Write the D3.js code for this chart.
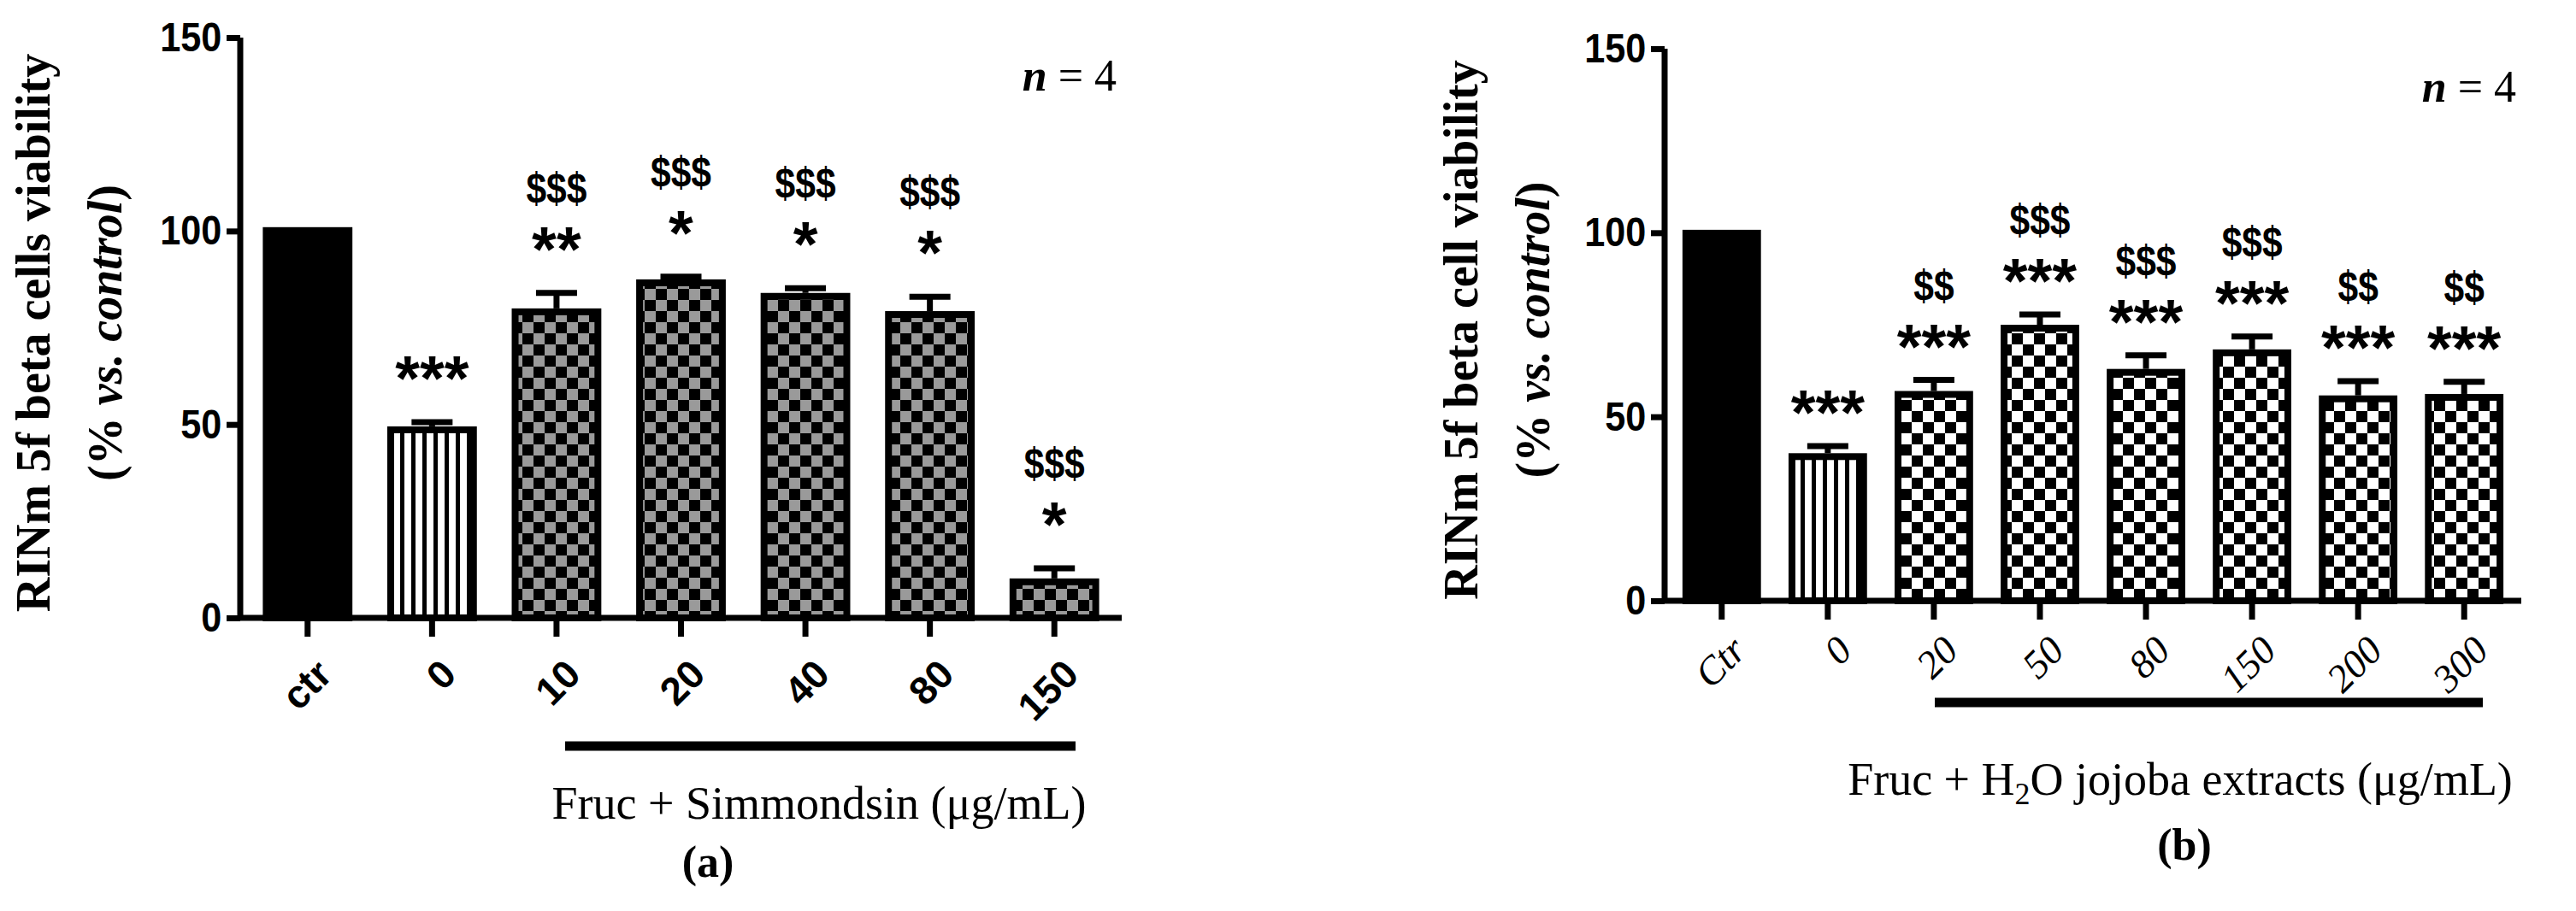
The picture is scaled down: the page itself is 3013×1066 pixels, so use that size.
<!DOCTYPE html>
<html><head><meta charset="utf-8">
<script src="https://cdn.jsdelivr.net/npm/d3@7"></script>
<style>body{margin:0;background:#fff}</style>
</head><body>
<svg id="chart" width="3013" height="1066"></svg>
<script>
// panel (a) data
var catsA = ['ctr', '0', '10', '20', '40', '80', '150'];
var valsA = [101, 49.5, 80, 87.5, 84, 79.3, 10.2];
var errA = [0, 50.6, 84, 88.2, 85.2, 83, 12.8];
var starsA = ['', '***', '**', '*', '*', '*', '*'];
var dollarsA = ['', '', '$$$', '$$$', '$$$', '$$$', '$$$'];
var fillA = ['solid', 'stripes', 'checkGray', 'checkGray', 'checkGray', 'checkGray', 'checkGray'];

// panel (b) data
var catsB = ['Ctr', '0', '20', '50', '80', '150', '200', '300'];
var valsB = [100.8, 40.1, 57, 75, 63, 68.3, 55.8, 56.2];
var errB = [0, 42, 60, 77.8, 66.7, 71.8, 59.7, 59.5];
var starsB = ['', '***', '***', '***', '***', '***', '***', '***'];
var dollarsB = ['', '', '$$', '$$$', '$$$', '$$$', '$$', '$$'];
var fillB = ['solid', 'stripes', 'checkBW', 'checkBW', 'checkBW', 'checkBW', 'checkBW', 'checkBW'];

var yTicks = [0, 50, 100, 150];

var svg = d3.select('#chart');
var defs = svg.append('defs');
var cell = 13;
function checker(id, c1, c2) {
    var p = defs.append('pattern').attr('id', id).attr('patternUnits', 'userSpaceOnUse')
        .attr('width', cell * 2).attr('height', cell * 2);
    p.append('rect').attr('width', cell * 2).attr('height', cell * 2).attr('fill', c1);
    p.append('rect').attr('width', cell).attr('height', cell).attr('fill', c2);
    p.append('rect').attr('x', cell).attr('y', cell).attr('width', cell).attr('height', cell).attr('fill', c2);
}
checker('checkGray', '#000', '#9a9a9a');
checker('checkBW', '#000', '#fff');
var sp = defs.append('pattern').attr('id', 'stripes').attr('patternUnits', 'userSpaceOnUse')
    .attr('width', 13).attr('height', 20);
sp.append('rect').attr('width', 13).attr('height', 20).attr('fill', '#fff');
sp.append('rect').attr('width', 5).attr('height', 20).attr('fill', '#000');

var serif = 'Liberation Serif, serif';
var sans = 'Liberation Sans, Arial, sans-serif';

function panel(cfg) {
    var g = svg.append('g');
    var y = d3.scaleLinear().domain([0, 150]).range([cfg.y0, cfg.y150]);
    var x = d3.scaleBand().domain(cfg.cats).range([cfg.axisX + 6, cfg.xEnd - 6])
        .paddingInner(cfg.padIn).paddingOuter(cfg.padOut);

    // bars
    g.selectAll('.bar').data(cfg.cats).enter().append('rect')
        .attr('x', d => x(d) + 4).attr('width', x.bandwidth() - 8)
        .attr('y', (d, i) => y(cfg.vals[i]) + 4)
        .attr('height', (d, i) => cfg.y0 - y(cfg.vals[i]) - 4)
        .attr('fill', (d, i) => cfg.fills[i] === 'solid' ? '#000' : 'url(#' + cfg.fills[i] + ')')
        .attr('stroke', '#000').attr('stroke-width', 8);

    // error bars and significance marks
    cfg.cats.forEach(function(d, i) {
        if (!cfg.errs[i]) return;
        var cx = x(d) + x.bandwidth() / 2;
        g.append('line').attr('x1', cx).attr('x2', cx)
            .attr('y1', y(cfg.vals[i])).attr('y2', y(cfg.errs[i]))
            .attr('stroke', '#000').attr('stroke-width', 7);
        g.append('line').attr('x1', cx - 24).attr('x2', cx + 24)
            .attr('y1', y(cfg.errs[i])).attr('y2', y(cfg.errs[i]))
            .attr('stroke', '#000').attr('stroke-width', 7);
        var starY = y(cfg.errs[i]) - cfg.starGap;
        g.append('text').attr('x', cx).attr('y', starY + 36)
            .attr('text-anchor', 'middle').attr('font-family', sans).attr('font-weight', 'bold')
            .attr('font-size', 74).text(cfg.stars[i]);
        var dy = starY - 44;
        g.append('text').attr('x', cx).attr('y', dy)
            .attr('text-anchor', 'middle').attr('font-family', sans)
            .attr('font-weight', 'bold').attr('font-size', 50)
            .attr('transform', 'translate(' + cx + ',' + dy + ') scale(0.85,1) translate(' + (-cx) + ',' + (-dy) + ')')
            .text(cfg.dollars[i]);
    });

    // y axis
    var yAxis = g.append('g').attr('transform', 'translate(' + cfg.axisX + ',0)')
        .call(d3.axisLeft(y).tickValues(yTicks).tickSize(16).tickPadding(8));
    yAxis.select('.domain').attr('stroke-width', 7).attr('d', 'M0,' + (cfg.y0 + 3) + 'V' + cfg.y150);
    yAxis.selectAll('.tick line').attr('stroke-width', 7);
    yAxis.selectAll('.tick text').attr('font-family', sans).attr('font-weight', 'bold')
        .attr('font-size', 48).attr('fill', '#000')
        .attr('transform', 'scale(0.9,1)');

    // x axis
    var xAxis = g.append('g').attr('transform', 'translate(0,' + cfg.y0 + ')')
        .call(d3.axisBottom(x).tickSize(22).tickFormat(''));
    xAxis.select('.domain').attr('stroke-width', 7).attr('d', 'M' + cfg.axisX + ',0H' + cfg.xEnd);
    xAxis.selectAll('.tick line').attr('stroke-width', 7);
    cfg.cats.forEach(function(d) {
        var tx = x(d) + x.bandwidth() / 2 + 8, ty = cfg.y0 + cfg.tickOff;
        g.append('text').attr('transform', 'translate(' + tx + ',' + ty + ') rotate(-45)')
            .attr('text-anchor', 'end').attr('dy', '0.7em')
            .attr('font-family', cfg.tickFont).attr('font-weight', cfg.tickWeight)
            .attr('font-style', cfg.tickStyle).attr('font-size', cfg.tickSize).text(d);
    });

    // group line
    g.append('line').attr('x1', cfg.lineX[0]).attr('x2', cfg.lineX[1])
        .attr('y1', cfg.lineY).attr('y2', cfg.lineY).attr('stroke', '#000').attr('stroke-width', 11);

    // x label
    var xl = g.append('text').attr('x', cfg.xLabelX).attr('y', cfg.xLabelY)
        .attr('text-anchor', 'middle').attr('font-family', serif).attr('font-size', 54);
    cfg.xLabel(xl);
    g.append('text').attr('x', cfg.subX).attr('y', cfg.subY).attr('text-anchor', 'middle')
        .attr('font-family', serif).attr('font-weight', 'bold').attr('font-size', 52).text(cfg.sub);

    // y label
    var yl = g.append('text').attr('transform', 'translate(' + cfg.yLabelX + ',' + ((cfg.y0 + cfg.y150) / 2 + 6) + ') rotate(-90)')
        .attr('text-anchor', 'middle').attr('font-family', serif).attr('font-weight', 'bold').attr('font-size', 56);
    yl.append('tspan').attr('x', 0).attr('dy', 0).text(cfg.yLabel);
    var t2 = yl.append('tspan').attr('x', 0).attr('dy', 84).text('(% ');
    t2.append('tspan').attr('font-style', 'italic').text('vs. control');
    yl.append('tspan').text(')');

    // n = 4
    var n = g.append('text').attr('x', cfg.xEnd - 6).attr('y', cfg.y150 + 62).attr('text-anchor', 'end')
        .attr('font-family', serif).attr('font-size', 52);
    n.append('tspan').attr('font-style', 'italic').attr('font-weight', 'bold').text('n');
    n.append('tspan').text(' = 4');
}

panel({
    cats: catsA, vals: valsA, errs: errA, stars: starsA, dollars: dollarsA, fills: fillA,
    axisX: 281, xEnd: 1312, y0: 723, y150: 44, padIn: 0.28, padOut: 0.14, starGap: 62,
    tickFont: sans, tickWeight: 'bold', tickStyle: 'normal', tickSize: 46, tickOff: 46,
    lineX: [661, 1258], lineY: 873,
    xLabelX: 958, xLabelY: 958, sub: '(a)', subX: 828, subY: 1026,
    xLabel: function(t) { t.text('Fruc + Simmondsin (μg/mL)'); },
    yLabel: 'RINm 5f beta cells viability', yLabelX: 58
});

panel({
    cats: catsB, vals: valsB, errs: errB, stars: starsB, dollars: dollarsB, fills: fillB,
    axisX: 1947, xEnd: 2949, y0: 703, y150: 57, padIn: 0.26, padOut: 0.12, starGap: 50,
    tickFont: serif, tickWeight: 'normal', tickStyle: 'italic', tickSize: 46, tickOff: 38,
    lineX: [2263, 2904], lineY: 822,
    xLabelX: 2550, xLabelY: 930, sub: '(b)', subX: 2555, subY: 1006,
    xLabel: function(t) {
        t.append('tspan').text('Fruc + H');
        t.append('tspan').attr('font-size', 36).attr('dy', 11).text('2');
        t.append('tspan').attr('dy', -11).text('O jojoba extracts (μg/mL)');
    },
    yLabel: 'RINm 5f beta cell viability', yLabelX: 1728
});
</script>
</body></html>
